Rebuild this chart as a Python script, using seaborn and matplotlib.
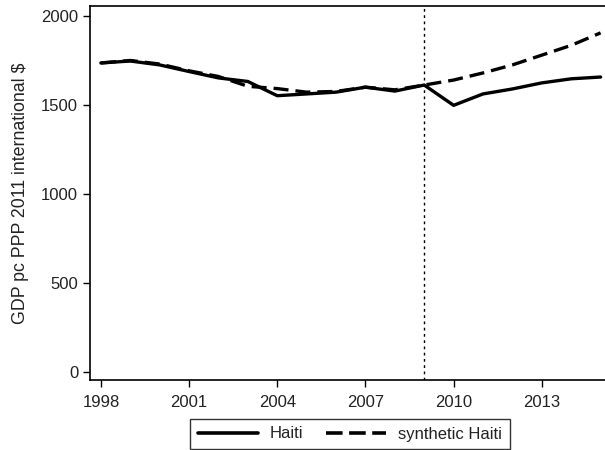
import matplotlib
matplotlib.use("Agg")
import matplotlib.pyplot as plt
from matplotlib.lines import Line2D
import seaborn as sns
import pandas as pd

years = list(range(1998, 2016))
haiti = [1736, 1747, 1725, 1688, 1652, 1632, 1552, 1562, 1572, 1600, 1578, 1612,
         1498, 1562, 1590, 1624, 1647, 1657]
synthetic = [1736, 1750, 1730, 1692, 1660, 1605, 1592, 1572, 1576, 1600, 1585, 1612,
             1640, 1680, 1725, 1780, 1835, 1905]
xticks = [1998, 2001, 2004, 2007, 2010, 2013]
yticks = [0, 500, 1000, 1500, 2000]
treatment_year = 2009

df = pd.DataFrame({
    "year": years * 2,
    "gdp": haiti + synthetic,
    "series": ["Haiti"] * len(years) + ["synthetic Haiti"] * len(years),
})

sns.set_theme(style="ticks")
plt.rcParams["font.family"] = ["Liberation Sans", "DejaVu Sans"]

fig = plt.figure(figsize=(6.05, 4.5), dpi=100)
ax = fig.add_axes([90 / 605, 70 / 450, 515 / 605, 374 / 450])

sns.lineplot(data=df, x="year", y="gdp", style="series",
             dashes={"Haiti": "", "synthetic Haiti": (4.5, 2.1)},
             color="black", linewidth=2.4, ax=ax, legend=False)

ax.axvline(treatment_year, color="black", linestyle=(0, (2, 2.5)), linewidth=1)

ax.set_xlim(1997.63, 2015.15)
ax.set_ylim(-45, 2056)
ax.set_xticks(xticks)
ax.set_yticks(yticks)
ax.set_xlabel("")
ax.set_ylabel("GDP pc PPP 2011 international $", fontsize=12.8, color="#222222",
              labelpad=9)
ax.tick_params(axis="both", labelsize=12, colors="black", length=5, width=1,
               direction="out")
ax.tick_params(axis="x", pad=6)
for lbl in ax.get_xticklabels() + ax.get_yticklabels():
    lbl.set_color("#222222")
for side in ["left", "bottom", "top"]:
    ax.spines[side].set_color("black")
    ax.spines[side].set_linewidth(1.2)
ax.spines["right"].set_visible(False)

handles = [Line2D([], [], color="black", linewidth=2.6),
           Line2D([], [], color="black", linewidth=2.6, linestyle=(0, (4.6, 1.8)))]
leg = fig.legend(handles, ["Haiti", "synthetic Haiti"], loc="upper center",
                 bbox_to_anchor=(350 / 605, 1 - 419 / 450), ncol=2, frameon=True,
                 fancybox=False, edgecolor="black", fontsize=12,
                 handlelength=3.6, columnspacing=1.4, borderpad=0.45,
                 handletextpad=0.7, borderaxespad=0)
leg.get_frame().set_linewidth(1.0)
for t in leg.get_texts():
    t.set_color("#222222")

fig.savefig("out.png", dpi=100)
